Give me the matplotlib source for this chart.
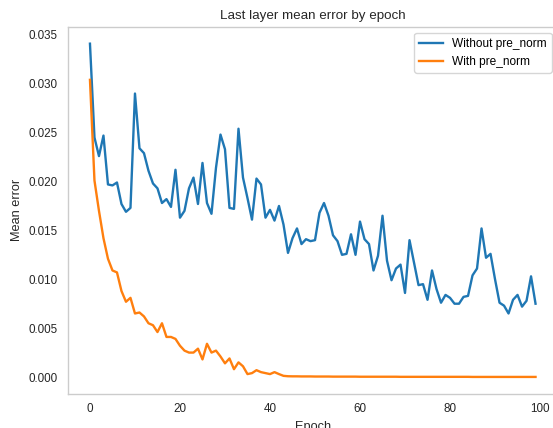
import numpy as np
import matplotlib
matplotlib.use("Agg")
import matplotlib.pyplot as plt

plt.rcParams['font.family'] = ['Liberation Sans', 'DejaVu Sans']

# Mean error of the last layer, one value per epoch
err_without = [
    0.0341, 0.0245, 0.0226, 0.0247, 0.0197, 0.0196, 0.0199, 0.0177, 0.0169, 0.0173,
    0.0290, 0.0234, 0.0229, 0.0211, 0.0198, 0.0193, 0.0178, 0.0182, 0.0174, 0.0212,
    0.0163, 0.0170, 0.0193, 0.0204, 0.0177, 0.0219, 0.0178, 0.0167, 0.0214, 0.0248,
    0.0233, 0.0173, 0.0172, 0.0254, 0.0204, 0.0183, 0.0161, 0.0203, 0.0197, 0.0163,
    0.0171, 0.0160, 0.0175, 0.0156, 0.0127, 0.0142, 0.0152, 0.0136, 0.0141, 0.0139,
    0.0140, 0.0168, 0.0178, 0.0165, 0.0145, 0.0139, 0.0125, 0.0126, 0.0146, 0.0125,
    0.0159, 0.0141, 0.0136, 0.0109, 0.0124, 0.0165, 0.0119, 0.0099, 0.0111, 0.0115,
    0.0086, 0.0140, 0.0117, 0.0094, 0.0095, 0.0079, 0.0109, 0.0090, 0.0076, 0.0084,
    0.0081, 0.0075, 0.0075, 0.0082, 0.0083, 0.0104, 0.0111, 0.0152, 0.0122, 0.0126,
    0.0100, 0.0076, 0.0073, 0.0065, 0.0079, 0.0084, 0.0072, 0.0078, 0.0103, 0.0075,
]
err_with = [
    0.0304, 0.0201, 0.0170, 0.0142, 0.0121, 0.0109, 0.0107, 0.0088, 0.0077, 0.0081,
    0.0065, 0.0066, 0.0062, 0.0055, 0.0053, 0.0046, 0.0055, 0.0041, 0.0041, 0.0039,
    0.0032, 0.0027, 0.0025, 0.0025, 0.0029, 0.0018, 0.0034, 0.0025, 0.0027, 0.0021,
    0.0014, 0.0019, 0.0008, 0.0015, 0.0011, 0.0003, 0.0004, 0.0007, 0.0005, 0.0004,
    0.0003, 0.0005, 0.0003, 0.00012, 0.00008, 0.00007, 0.00007, 0.00006, 0.00006, 0.00006,
    0.00005, 0.00005, 0.00005, 0.00005, 0.00004, 0.00004, 0.00004, 0.00004, 0.00004, 0.00004,
    0.00003, 0.00003, 0.00003, 0.00003, 0.00003, 0.00003, 0.00003, 0.00003, 0.00003, 0.00002,
    0.00002, 0.00002, 0.00002, 0.00002, 0.00002, 0.00002, 0.00002, 0.00002, 0.00002, 0.00002,
    0.00002, 0.00002, 0.00002, 0.00002, 0.00002, 0.00001, 0.00001, 0.00001, 0.00001, 0.00001,
    0.00001, 0.00001, 0.00001, 0.00001, 0.00001, 0.00001, 0.00001, 0.00001, 0.00001, 0.00001,
]
epochs = np.arange(len(err_without))

fig = plt.figure(figsize=(5.53, 4.28), dpi=100)
ax = fig.add_axes([0.1224, 0.0804, 0.8863, 0.8565])

ax.plot(epochs, err_without, color="#1f77b4", lw=1.7, label="Without pre_norm")
ax.plot(epochs, err_with, color="#ff7f0e", lw=1.7, label="With pre_norm")

ax.set_title("Last layer mean error by epoch", fontsize=9.6, color="#262626")
ax.set_xlabel("Epoch", fontsize=9.2, color="#262626")
ax.set_ylabel("Mean error", fontsize=9.2, color="#262626")
ax.set_yticks(np.arange(0, 0.0351, 0.005))
ax.set_xticks([0, 20, 40, 60, 80, 100])
ax.tick_params(length=0, pad=7, labelsize=8.4, colors="#262626")
for s in ax.spines.values():
    s.set_color("#cccccc")
    s.set_linewidth(1.0)

leg = ax.legend(loc="upper right", fontsize=8.6, fancybox=True)
leg.get_frame().set_edgecolor("#cccccc")

fig.savefig("out.png", dpi=100)
